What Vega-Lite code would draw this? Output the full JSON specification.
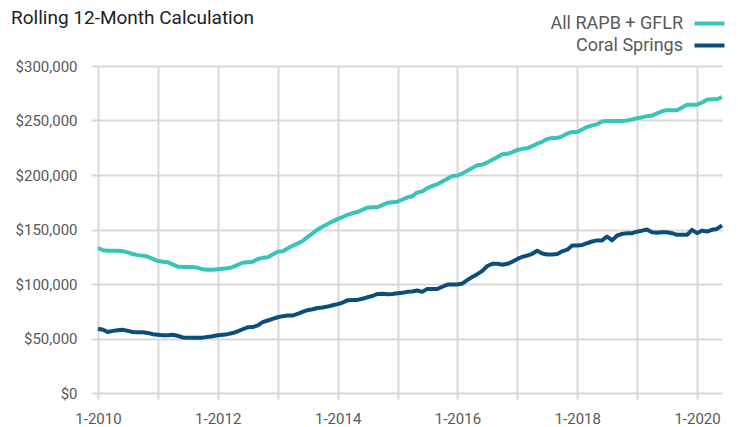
{
  "$schema": "https://vega.github.io/schema/vega-lite/v6.json",
  "width": 624,
  "height": 327,
  "autosize": {"type": "none"},
  "padding": {"left": 98, "top": 66, "right": 16, "bottom": 34},
  "background": "white",
  "config": {
    "font": "Roboto, sans-serif",
    "view": {"stroke": null}
  },
  "title": {
    "text": "Rolling 12-Month Calculation",
    "anchor": "start",
    "frame": "group",
    "dx": -87,
    "offset": -14,
    "fontSize": 19,
    "fontWeight": "normal",
    "color": "#222222",
    "font": "Roboto, sans-serif"
  },
  "data": {
    "values": [
      {"d": "2010-01-01", "All RAPB + GFLR": 133000, "Coral Springs": 59000},
      {"d": "2010-02-01", "All RAPB + GFLR": 131000, "Coral Springs": 58000},
      {"d": "2010-03-01", "All RAPB + GFLR": 130500, "Coral Springs": 56000},
      {"d": "2010-04-01", "All RAPB + GFLR": 130500, "Coral Springs": 57000},
      {"d": "2010-05-01", "All RAPB + GFLR": 130500, "Coral Springs": 57500},
      {"d": "2010-06-01", "All RAPB + GFLR": 130000, "Coral Springs": 58000},
      {"d": "2010-07-01", "All RAPB + GFLR": 129000, "Coral Springs": 57000},
      {"d": "2010-08-01", "All RAPB + GFLR": 127500, "Coral Springs": 56000},
      {"d": "2010-09-01", "All RAPB + GFLR": 126500, "Coral Springs": 55800},
      {"d": "2010-10-01", "All RAPB + GFLR": 126000, "Coral Springs": 55800},
      {"d": "2010-11-01", "All RAPB + GFLR": 125000, "Coral Springs": 55000},
      {"d": "2010-12-01", "All RAPB + GFLR": 123000, "Coral Springs": 54000},
      {"d": "2011-01-01", "All RAPB + GFLR": 121000, "Coral Springs": 53500},
      {"d": "2011-02-01", "All RAPB + GFLR": 120500, "Coral Springs": 53000},
      {"d": "2011-03-01", "All RAPB + GFLR": 120000, "Coral Springs": 53000},
      {"d": "2011-04-01", "All RAPB + GFLR": 118000, "Coral Springs": 53500},
      {"d": "2011-05-01", "All RAPB + GFLR": 116000, "Coral Springs": 52500},
      {"d": "2011-06-01", "All RAPB + GFLR": 115500, "Coral Springs": 51000},
      {"d": "2011-07-01", "All RAPB + GFLR": 115500, "Coral Springs": 50800},
      {"d": "2011-08-01", "All RAPB + GFLR": 115500, "Coral Springs": 50800},
      {"d": "2011-09-01", "All RAPB + GFLR": 115000, "Coral Springs": 50800},
      {"d": "2011-10-01", "All RAPB + GFLR": 113500, "Coral Springs": 50800},
      {"d": "2011-11-01", "All RAPB + GFLR": 113000, "Coral Springs": 51500},
      {"d": "2011-12-01", "All RAPB + GFLR": 113000, "Coral Springs": 52000},
      {"d": "2012-01-01", "All RAPB + GFLR": 113500, "Coral Springs": 53000},
      {"d": "2012-02-01", "All RAPB + GFLR": 114000, "Coral Springs": 53500},
      {"d": "2012-03-01", "All RAPB + GFLR": 114500, "Coral Springs": 54000},
      {"d": "2012-04-01", "All RAPB + GFLR": 115500, "Coral Springs": 55000},
      {"d": "2012-05-01", "All RAPB + GFLR": 117500, "Coral Springs": 56500},
      {"d": "2012-06-01", "All RAPB + GFLR": 119500, "Coral Springs": 58500},
      {"d": "2012-07-01", "All RAPB + GFLR": 120000, "Coral Springs": 60300},
      {"d": "2012-08-01", "All RAPB + GFLR": 120500, "Coral Springs": 60500},
      {"d": "2012-09-01", "All RAPB + GFLR": 123000, "Coral Springs": 62000},
      {"d": "2012-10-01", "All RAPB + GFLR": 124000, "Coral Springs": 65000},
      {"d": "2012-11-01", "All RAPB + GFLR": 124500, "Coral Springs": 66500},
      {"d": "2012-12-01", "All RAPB + GFLR": 127000, "Coral Springs": 68000},
      {"d": "2013-01-01", "All RAPB + GFLR": 129500, "Coral Springs": 69500},
      {"d": "2013-02-01", "All RAPB + GFLR": 130000, "Coral Springs": 70500},
      {"d": "2013-03-01", "All RAPB + GFLR": 132500, "Coral Springs": 71000},
      {"d": "2013-04-01", "All RAPB + GFLR": 135000, "Coral Springs": 71000},
      {"d": "2013-05-01", "All RAPB + GFLR": 137000, "Coral Springs": 72500},
      {"d": "2013-06-01", "All RAPB + GFLR": 139500, "Coral Springs": 74500},
      {"d": "2013-07-01", "All RAPB + GFLR": 143000, "Coral Springs": 76000},
      {"d": "2013-08-01", "All RAPB + GFLR": 146500, "Coral Springs": 76800},
      {"d": "2013-09-01", "All RAPB + GFLR": 150000, "Coral Springs": 78000},
      {"d": "2013-10-01", "All RAPB + GFLR": 152500, "Coral Springs": 78500},
      {"d": "2013-11-01", "All RAPB + GFLR": 155000, "Coral Springs": 79300},
      {"d": "2013-12-01", "All RAPB + GFLR": 157500, "Coral Springs": 80500},
      {"d": "2014-01-01", "All RAPB + GFLR": 159500, "Coral Springs": 81500},
      {"d": "2014-02-01", "All RAPB + GFLR": 161500, "Coral Springs": 83000},
      {"d": "2014-03-01", "All RAPB + GFLR": 163500, "Coral Springs": 85000},
      {"d": "2014-04-01", "All RAPB + GFLR": 165000, "Coral Springs": 85400},
      {"d": "2014-05-01", "All RAPB + GFLR": 166000, "Coral Springs": 85400},
      {"d": "2014-06-01", "All RAPB + GFLR": 168000, "Coral Springs": 86500},
      {"d": "2014-07-01", "All RAPB + GFLR": 170000, "Coral Springs": 87800},
      {"d": "2014-08-01", "All RAPB + GFLR": 170500, "Coral Springs": 89000},
      {"d": "2014-09-01", "All RAPB + GFLR": 170500, "Coral Springs": 90900},
      {"d": "2014-10-01", "All RAPB + GFLR": 172500, "Coral Springs": 91000},
      {"d": "2014-11-01", "All RAPB + GFLR": 174500, "Coral Springs": 90500},
      {"d": "2014-12-01", "All RAPB + GFLR": 175000, "Coral Springs": 90800},
      {"d": "2015-01-01", "All RAPB + GFLR": 175500, "Coral Springs": 91500},
      {"d": "2015-02-01", "All RAPB + GFLR": 177500, "Coral Springs": 92000},
      {"d": "2015-03-01", "All RAPB + GFLR": 179500, "Coral Springs": 92800},
      {"d": "2015-04-01", "All RAPB + GFLR": 180500, "Coral Springs": 93200},
      {"d": "2015-05-01", "All RAPB + GFLR": 184000, "Coral Springs": 94000},
      {"d": "2015-06-01", "All RAPB + GFLR": 185000, "Coral Springs": 92800},
      {"d": "2015-07-01", "All RAPB + GFLR": 188000, "Coral Springs": 95500},
      {"d": "2015-08-01", "All RAPB + GFLR": 190000, "Coral Springs": 95500},
      {"d": "2015-09-01", "All RAPB + GFLR": 191500, "Coral Springs": 95500},
      {"d": "2015-10-01", "All RAPB + GFLR": 194000, "Coral Springs": 97500},
      {"d": "2015-11-01", "All RAPB + GFLR": 196500, "Coral Springs": 99500},
      {"d": "2015-12-01", "All RAPB + GFLR": 199000, "Coral Springs": 99500},
      {"d": "2016-01-01", "All RAPB + GFLR": 199500, "Coral Springs": 99500},
      {"d": "2016-02-01", "All RAPB + GFLR": 201500, "Coral Springs": 100500},
      {"d": "2016-03-01", "All RAPB + GFLR": 204000, "Coral Springs": 103500},
      {"d": "2016-04-01", "All RAPB + GFLR": 206500, "Coral Springs": 106500},
      {"d": "2016-05-01", "All RAPB + GFLR": 209000, "Coral Springs": 109000},
      {"d": "2016-06-01", "All RAPB + GFLR": 209500, "Coral Springs": 112000},
      {"d": "2016-07-01", "All RAPB + GFLR": 211500, "Coral Springs": 116500},
      {"d": "2016-08-01", "All RAPB + GFLR": 214000, "Coral Springs": 118500},
      {"d": "2016-09-01", "All RAPB + GFLR": 216500, "Coral Springs": 118500},
      {"d": "2016-10-01", "All RAPB + GFLR": 219000, "Coral Springs": 117600},
      {"d": "2016-11-01", "All RAPB + GFLR": 219500, "Coral Springs": 118500},
      {"d": "2016-12-01", "All RAPB + GFLR": 221000, "Coral Springs": 120500},
      {"d": "2017-01-01", "All RAPB + GFLR": 223000, "Coral Springs": 123000},
      {"d": "2017-02-01", "All RAPB + GFLR": 224000, "Coral Springs": 125000},
      {"d": "2017-03-01", "All RAPB + GFLR": 224500, "Coral Springs": 126000},
      {"d": "2017-04-01", "All RAPB + GFLR": 226500, "Coral Springs": 127700},
      {"d": "2017-05-01", "All RAPB + GFLR": 228500, "Coral Springs": 130500},
      {"d": "2017-06-01", "All RAPB + GFLR": 230500, "Coral Springs": 128000},
      {"d": "2017-07-01", "All RAPB + GFLR": 233000, "Coral Springs": 127000},
      {"d": "2017-08-01", "All RAPB + GFLR": 234000, "Coral Springs": 127000},
      {"d": "2017-09-01", "All RAPB + GFLR": 234000, "Coral Springs": 127500},
      {"d": "2017-10-01", "All RAPB + GFLR": 235500, "Coral Springs": 130000},
      {"d": "2017-11-01", "All RAPB + GFLR": 238000, "Coral Springs": 131500},
      {"d": "2017-12-01", "All RAPB + GFLR": 239500, "Coral Springs": 135300},
      {"d": "2018-01-01", "All RAPB + GFLR": 239500, "Coral Springs": 135300},
      {"d": "2018-02-01", "All RAPB + GFLR": 242000, "Coral Springs": 135800},
      {"d": "2018-03-01", "All RAPB + GFLR": 244000, "Coral Springs": 137400},
      {"d": "2018-04-01", "All RAPB + GFLR": 245500, "Coral Springs": 139000},
      {"d": "2018-05-01", "All RAPB + GFLR": 246500, "Coral Springs": 140000},
      {"d": "2018-06-01", "All RAPB + GFLR": 249000, "Coral Springs": 140000},
      {"d": "2018-07-01", "All RAPB + GFLR": 249500, "Coral Springs": 143600},
      {"d": "2018-08-01", "All RAPB + GFLR": 249500, "Coral Springs": 140000},
      {"d": "2018-09-01", "All RAPB + GFLR": 249500, "Coral Springs": 144500},
      {"d": "2018-10-01", "All RAPB + GFLR": 249500, "Coral Springs": 146000},
      {"d": "2018-11-01", "All RAPB + GFLR": 250000, "Coral Springs": 146600},
      {"d": "2018-12-01", "All RAPB + GFLR": 251000, "Coral Springs": 146600},
      {"d": "2019-01-01", "All RAPB + GFLR": 252000, "Coral Springs": 148000},
      {"d": "2019-02-01", "All RAPB + GFLR": 253000, "Coral Springs": 149000},
      {"d": "2019-03-01", "All RAPB + GFLR": 254000, "Coral Springs": 150000},
      {"d": "2019-04-01", "All RAPB + GFLR": 254500, "Coral Springs": 147500},
      {"d": "2019-05-01", "All RAPB + GFLR": 256500, "Coral Springs": 147000},
      {"d": "2019-06-01", "All RAPB + GFLR": 258500, "Coral Springs": 147500},
      {"d": "2019-07-01", "All RAPB + GFLR": 259500, "Coral Springs": 147500},
      {"d": "2019-08-01", "All RAPB + GFLR": 259500, "Coral Springs": 146600},
      {"d": "2019-09-01", "All RAPB + GFLR": 259500, "Coral Springs": 145100},
      {"d": "2019-10-01", "All RAPB + GFLR": 262000, "Coral Springs": 145100},
      {"d": "2019-11-01", "All RAPB + GFLR": 264500, "Coral Springs": 145100},
      {"d": "2019-12-01", "All RAPB + GFLR": 264500, "Coral Springs": 149700},
      {"d": "2020-01-01", "All RAPB + GFLR": 264500, "Coral Springs": 146600},
      {"d": "2020-02-01", "All RAPB + GFLR": 266500, "Coral Springs": 149000},
      {"d": "2020-03-01", "All RAPB + GFLR": 269000, "Coral Springs": 148100},
      {"d": "2020-04-01", "All RAPB + GFLR": 269500, "Coral Springs": 149700},
      {"d": "2020-05-01", "All RAPB + GFLR": 269500, "Coral Springs": 150500},
      {"d": "2020-06-01", "All RAPB + GFLR": 271500, "Coral Springs": 153700}
    ]
  },
  "transform": [
    {"fold": ["All RAPB + GFLR", "Coral Springs"], "as": ["series", "value"]}
  ],
  "mark": {"type": "line", "strokeWidth": 4, "strokeJoin": "round"},
  "encoding": {
    "x": {
      "field": "d",
      "type": "temporal",
      "scale": {"type": "utc"},
      "axis": {
        "title": null,
        "format": "%-m-%Y",
        "tickCount": {"interval": "year", "step": 1},
        "labelExpr": "utcyear(datum.value) % 2 == 0 ? datum.label : ''",
        "domain": false,
        "grid": true,
        "gridColor": "#D9D9D9",
        "gridWidth": 2,
        "tickColor": "#D9D9D9",
        "tickWidth": 2,
        "tickSize": 6,
        "labelPadding": 12,
        "labelFontSize": 15,
        "labelColor": "#595959",
        "labelFont": "Roboto, sans-serif",
        "labelFlush": false,
        "labelOverlap": false
      }
    },
    "y": {
      "field": "value",
      "type": "quantitative",
      "scale": {"domain": [0, 300000], "nice": false},
      "axis": {
        "title": null,
        "values": [0, 50000, 100000, 150000, 200000, 250000, 300000],
        "format": "$,.0f",
        "domain": false,
        "grid": true,
        "gridColor": "#D9D9D9",
        "gridWidth": 2,
        "tickColor": "#D9D9D9",
        "tickWidth": 2,
        "tickSize": 7,
        "labelPadding": 14,
        "labelFontSize": 15,
        "labelColor": "#595959",
        "labelFont": "Roboto, sans-serif"
      }
    },
    "color": {
      "field": "series",
      "type": "nominal",
      "scale": {"domain": ["All RAPB + GFLR", "Coral Springs"], "range": ["#36C5B6", "#0C4E7A"]},
      "legend": {
        "title": null,
        "orient": "none",
        "legendX": 602,
        "legendY": -52,
        "direction": "vertical",
        "padding": 0,
        "symbolType": "M-2,0H2",
        "symbolSize": 225,
        "symbolStrokeWidth": 4,
        "labelAlign": "right",
        "labelOffset": -36,
        "labelFontSize": 18,
        "labelColor": "#595959",
        "labelFont": "Roboto, sans-serif",
        "rowPadding": 3
      }
    }
  }
}
